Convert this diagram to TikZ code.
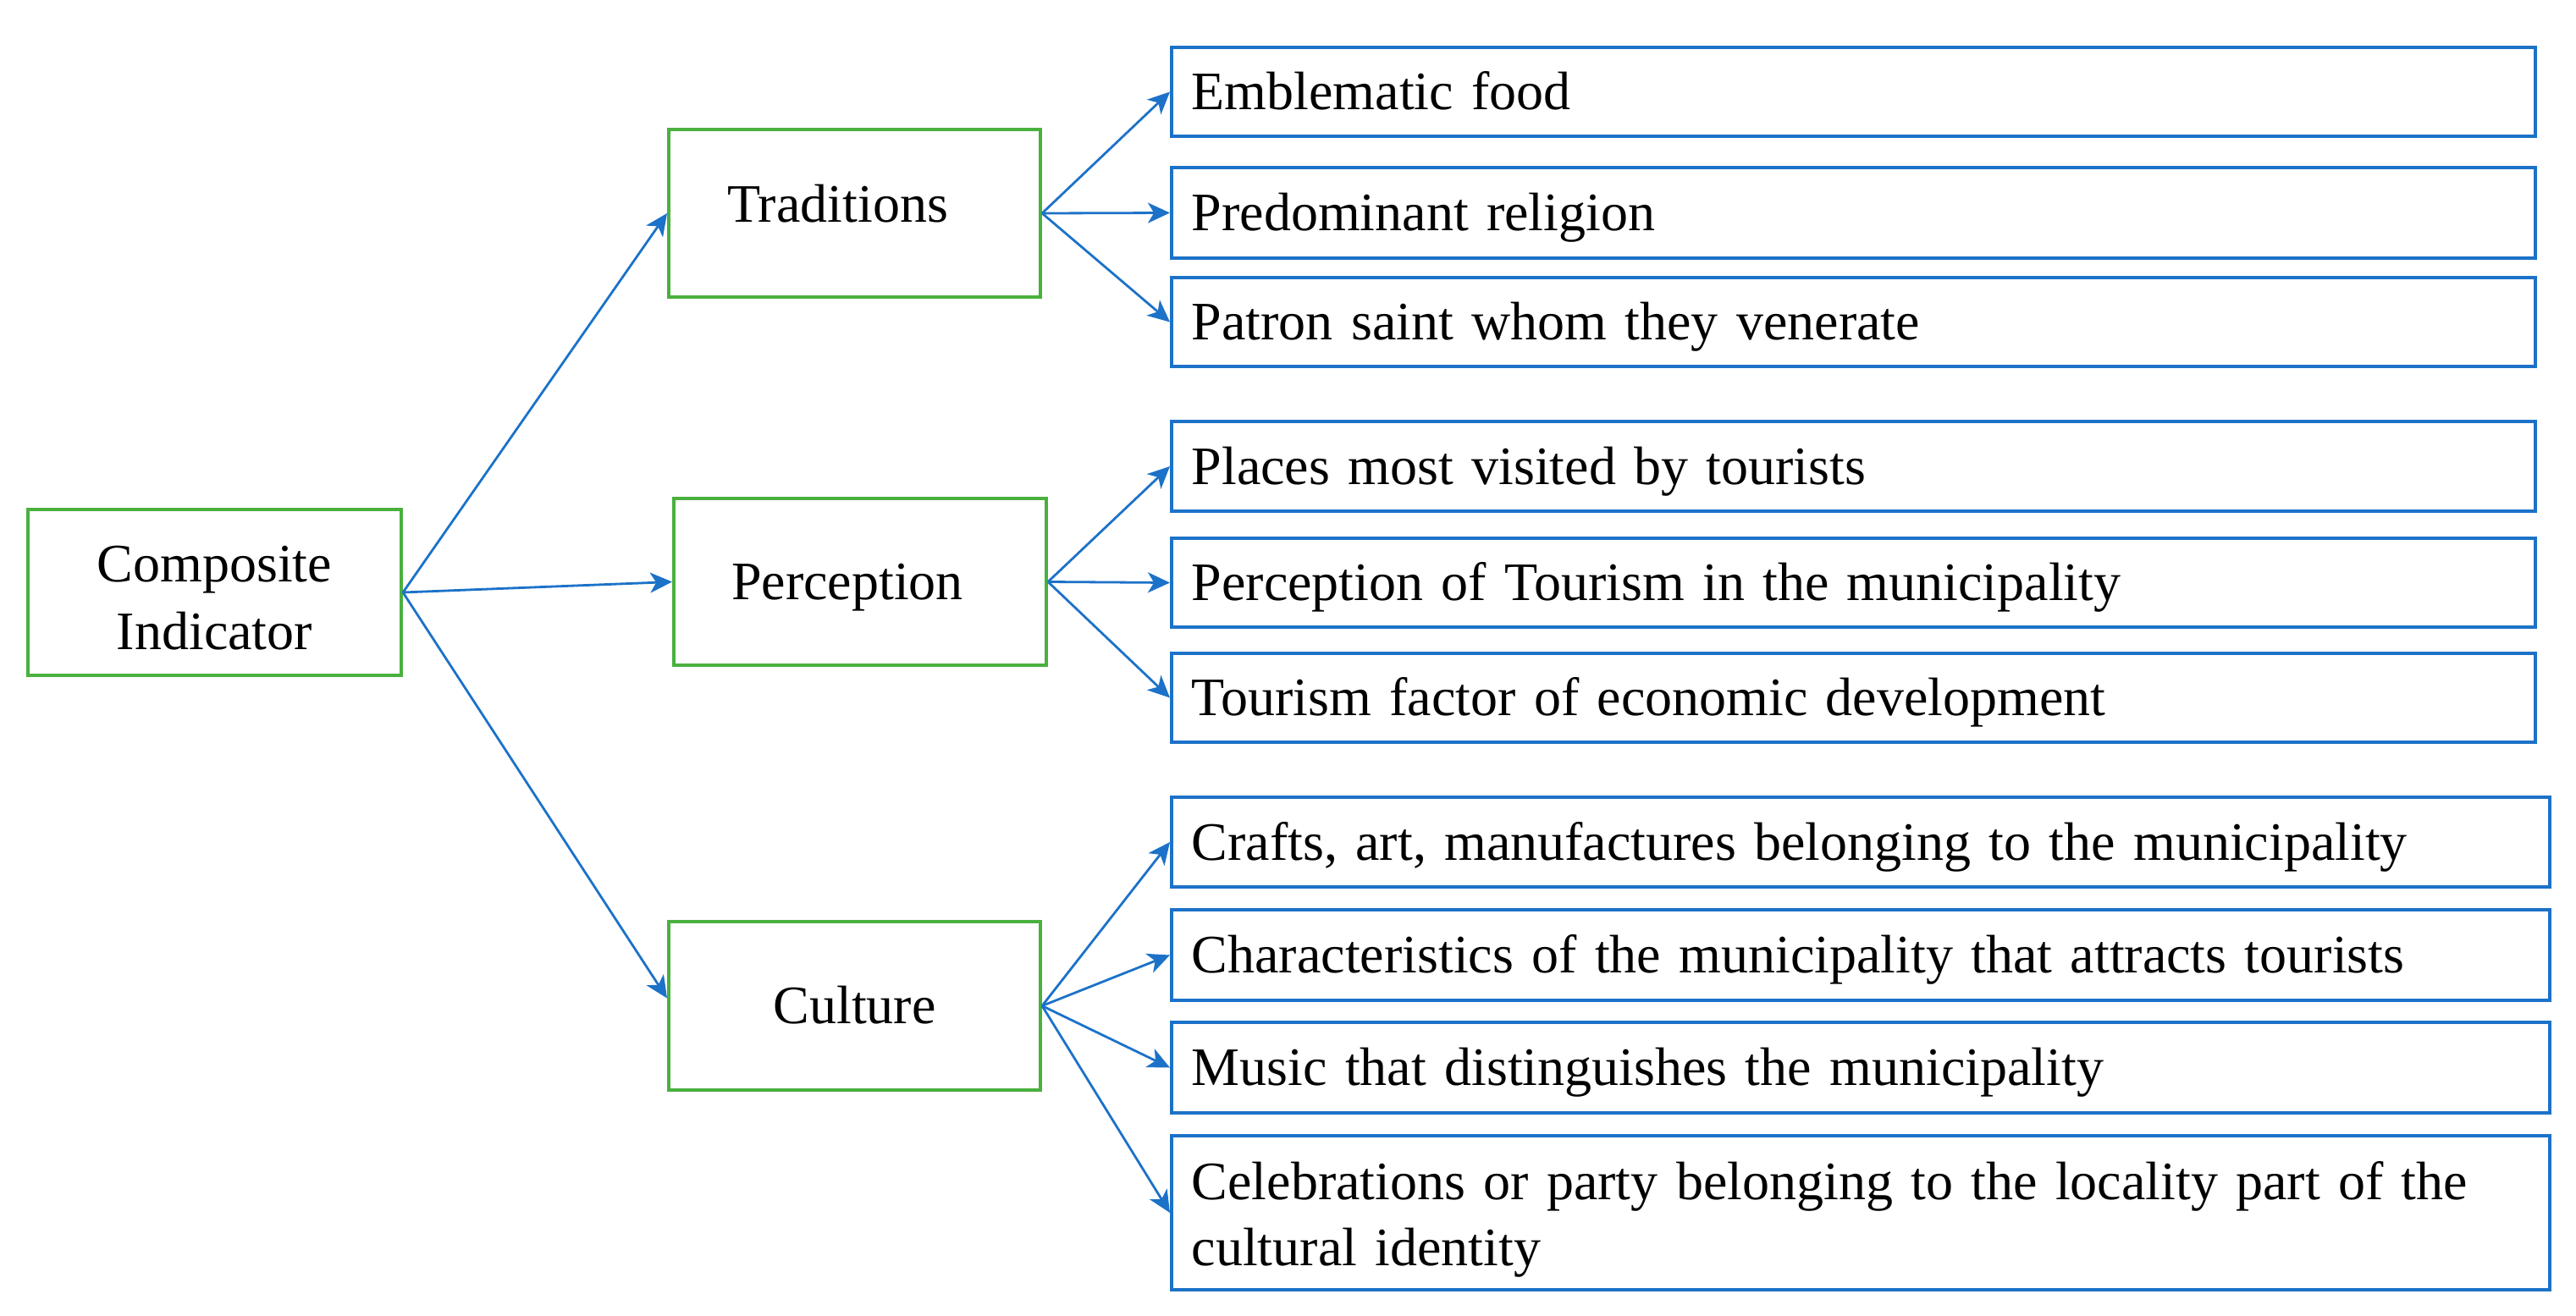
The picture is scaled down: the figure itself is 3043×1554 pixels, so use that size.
\documentclass[tikz,border=0pt]{standalone}
\usepackage{fontspec}
\setmainfont{Liberation Serif}
\usetikzlibrary{arrows.meta}
\definecolor{gr}{RGB}{74,176,62}
\definecolor{bl}{RGB}{28,114,200}
\tikzset{
  gbox/.style={draw=gr, line width=1pt, inner sep=0pt, align=center,
    font=\fontsize{16pt}{20pt}\selectfont},
  gone/.style={gbox, text height=10.6pt, text depth=0pt},
  bbox/.style={draw=bl, line width=0.875pt, anchor=west, inner xsep=6pt, inner ysep=0pt,
    align=left, font=\fontsize{16pt}{19.5pt}\selectfont},
  bone/.style={bbox, text height=10.6pt, text depth=0pt},
  wa/.style={minimum width=402.75pt, text width=390.75pt},
  wb/.style={minimum width=407pt, text width=395pt},
  arr/.style={draw=bl, line width=0.7pt, -{Stealth[length=6.5pt,width=6pt,inset=1.8pt]}}
}
\begin{document}
\begin{tikzpicture}[x=0.25pt,y=-0.25pt]
\useasboundingbox (0,0) rectangle (3043,1554);
% green boxes
\node[gbox, minimum width=110.25pt, minimum height=49pt] (comp) at (253.5,700) {\rule{0pt}{14pt}Composite\\Indicator};
\node[gone, minimum width=109.75pt, minimum height=49.5pt] (trad) at (1009.5,252) {\raisebox{2.75pt}{Traditions}\hspace*{10pt}};
\node[gone, minimum width=110pt, minimum height=49.25pt] (perc) at (1016,687.5) {Perception\hspace*{7.5pt}};
\node[gone, minimum width=109.75pt, minimum height=49.75pt] (cult) at (1009.5,1188.5) {Culture};
% blue boxes
\node[bone, wa, minimum height=26.25pt] (b1) at (1382,108.5) {Emblematic food};
\node[bone, wa, minimum height=26.75pt] (b2) at (1382,251.5) {Predominant religion};
\node[bone, wa, minimum height=26.25pt] (b3) at (1382,380.5) {Patron saint whom they venerate};
\node[bone, wa, minimum height=26.5pt] (b4) at (1382,551) {Places most visited by tourists};
\node[bone, wa, minimum height=26.25pt] (b5) at (1382,688.5) {Perception of Tourism in the municipality};
\node[bone, wa, minimum height=26.25pt] (b6) at (1382,824.5) {Tourism factor of economic development};
\node[bone, wb, minimum height=26.5pt] (b7) at (1382,995) {Crafts, art, manufactures belonging to the municipality};
\node[bone, wb, minimum height=26.75pt] (b8) at (1382,1128.5) {Characteristics of the municipality that attracts tourists};
\node[bone, wb, minimum height=26.75pt] (b9) at (1382,1261.5) {Music that distinguishes the municipality};
\node[bbox, wb, minimum height=45.5pt] (b10) at (1382,1433) {\rule{0pt}{15pt}Celebrations or party belonging to the locality part of the\\cultural identity};
% connectors
\draw[arr] (comp.east) -- (trad.west);
\draw[arr] (comp.east) -- (perc.west);
\draw[arr] (comp.east) -- ([yshift=2.25pt]cult.west);
\draw[arr] (trad.east) -- (b1.west);
\draw[arr] (trad.east) -- (b2.west);
\draw[arr] (trad.east) -- (b3.west);
\draw[arr] (perc.east) -- (b4.west);
\draw[arr] (perc.east) -- (b5.west);
\draw[arr] (perc.east) -- (b6.west);
\draw[arr] (cult.east) -- (b7.west);
\draw[arr] (cult.east) -- (b8.west);
\draw[arr] (cult.east) -- (b9.west);
\draw[arr] (cult.east) -- (b10.west);
\end{tikzpicture}
\end{document}
